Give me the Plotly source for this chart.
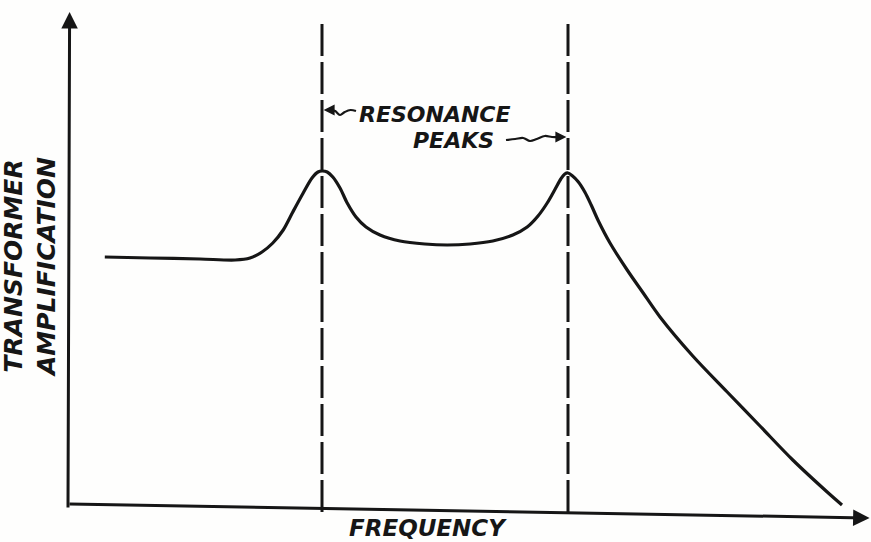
import plotly.graph_objects as go

# Amplification vs. frequency of an interstage transformer (arbitrary units)
freq = [4.6, 10.25, 16.5, 20.9, 22.75, 24.25, 25.6, 26.9, 28.1, 29.4, 30.5, 31.25,
        31.75, 32.4, 33.1, 34.0, 34.9, 36.0, 37.25, 39.0, 41.5, 44.6, 47.4, 50.25,
        53.1, 55.6, 57.4, 58.75, 59.9, 60.9, 61.6, 62.1, 62.5, 63.0, 63.8, 64.6,
        65.4, 66.3, 67.75, 69.9, 71.9, 74.0, 78.1, 82.4, 86.5, 90.6, 94.9, 96.75]
amplification = [51.0, 50.8, 50.6, 50.4, 50.8, 52.0, 53.8, 56.4, 60.0, 63.8, 66.8, 68.0,
                 68.2, 68.0, 67.0, 64.8, 61.8, 59.0, 57.0, 55.4, 54.2, 53.6, 53.4, 53.6,
                 54.2, 55.4, 57.0, 59.2, 61.8, 64.6, 66.6, 67.6, 67.8, 67.3, 66.0, 64.0,
                 61.4, 58.2, 53.8, 48.4, 43.8, 39.0, 31.2, 24.0, 17.2, 10.4, 4.0, 1.4]

# Resonance peak frequencies and the tops of their marker lines
peak_freqs = [31.75, 62.5]
peak_line_tops = [98.4, 98.0]

# Text
x_title = "FREQUENCY"
y_title = ["TRANSFORMER", "AMPLIFICATION"]
peak_label = ["RESONANCE", "PEAKS"]

INK = "#161616"
FONT = dict(family="DejaVu Sans", color=INK, weight="bold", style="italic")

fig = go.Figure()

# dashed markers through each resonance peak
for f, top in zip(peak_freqs, peak_line_tops):
    fig.add_trace(go.Scatter(
        x=[f, f], y=[0, top], mode="lines",
        line=dict(color=INK, width=3, dash="32px,6px"),
        hoverinfo="skip", showlegend=False))

# response curve
fig.add_trace(go.Scatter(
    x=freq, y=amplification, mode="lines",
    line=dict(color=INK, width=3.2, shape="spline", smoothing=0.9),
    showlegend=False))

# wavy leaders from the label to the peak lines
lead_left_x = [36.0, 35.3, 34.6, 34.0, 33.4, 32.9]
lead_left_y = [80.2, 80.4, 80.0, 79.4, 80.2, 80.4]
lead_right_x = [54.75, 55.9, 56.9, 57.75, 58.6, 59.6, 60.5, 61.3]
lead_right_y = [74.4, 74.6, 74.8, 74.2, 74.6, 75.2, 75.0, 75.0]
for lx, ly in ((lead_left_x, lead_left_y), (lead_right_x, lead_right_y)):
    fig.add_trace(go.Scatter(
        x=lx, y=ly, mode="lines",
        line=dict(color=INK, width=2.2, shape="spline"),
        hoverinfo="skip", showlegend=False))

# arrowheads where the leaders touch the peak lines
fig.add_annotation(x=peak_freqs[0] + 0.2, y=lead_left_y[-1], ax=lead_left_x[-1],
                   ay=lead_left_y[-1], xref="x", yref="y", axref="x", ayref="y",
                   text="", showarrow=True, arrowhead=2, arrowsize=1.0,
                   arrowwidth=2.2, arrowcolor=INK, standoff=0)
fig.add_annotation(x=peak_freqs[1] - 0.2, y=lead_right_y[-1], ax=lead_right_x[-1],
                   ay=lead_right_y[-1], xref="x", yref="y", axref="x", ayref="y",
                   text="", showarrow=True, arrowhead=2, arrowsize=1.0,
                   arrowwidth=2.2, arrowcolor=INK, standoff=0)

# axes drawn as arrows
fig.add_annotation(x=0.2, y=100.0, ax=0.0, ay=0.6, xref="x", yref="y",
                   axref="x", ayref="y", text="", showarrow=True,
                   arrowhead=2, arrowsize=1.1, arrowwidth=3, arrowcolor=INK)
fig.add_annotation(x=100.2, y=-1.2, ax=0.0, ay=1.6, xref="x", yref="y",
                   axref="x", ayref="y", text="", showarrow=True,
                   arrowhead=2, arrowsize=1.1, arrowwidth=3, arrowcolor=INK)

# labels
fig.add_annotation(x=45.0, y=-3.2, xref="x", yref="y", text=x_title,
                   showarrow=False, font=dict(size=23, **FONT))
fig.add_annotation(x=-4.75, y=49.0, xref="x", yref="y",
                   text="<br>".join(y_title), textangle=-90, showarrow=False,
                   font=dict(size=25, **FONT))
fig.add_annotation(x=45.9, y=79.5, xref="x", yref="y", text=peak_label[0],
                   showarrow=False, font=dict(size=22, **FONT))
fig.add_annotation(x=48.2, y=74.4, xref="x", yref="y", text=peak_label[1],
                   showarrow=False, font=dict(size=22, **FONT))

fig.update_layout(
    width=871, height=542,
    margin=dict(l=0, r=0, t=0, b=0),
    paper_bgcolor="#fefefd", plot_bgcolor="#fefefd",
    xaxis=dict(range=[-8.5, 100.375], visible=False, fixedrange=True),
    yaxis=dict(range=[-6.0, 102.4], visible=False, fixedrange=True),
)

fig.write_html("out.html")
